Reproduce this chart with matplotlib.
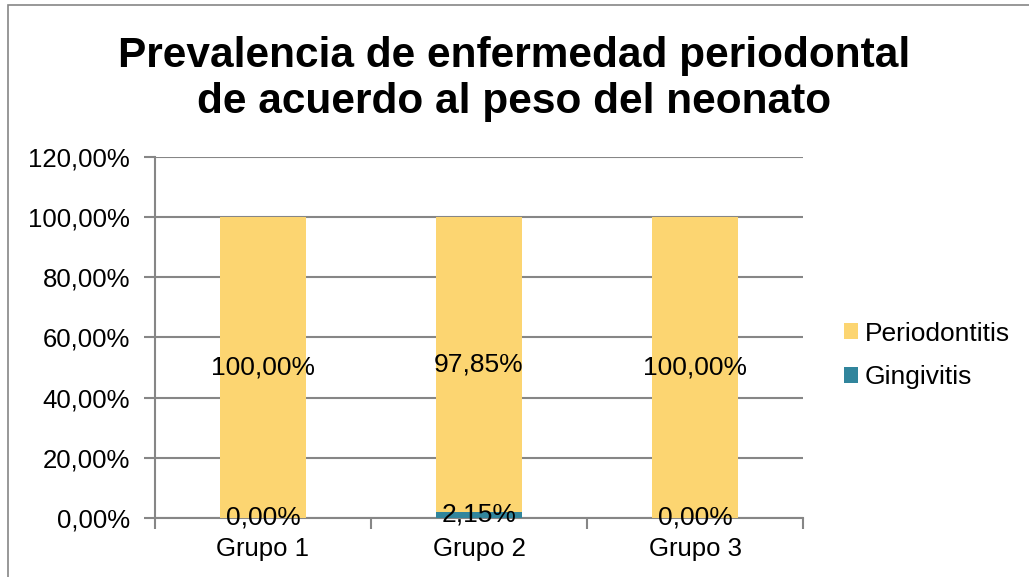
import matplotlib.pyplot as plt
from matplotlib.patches import Rectangle
from matplotlib.ticker import FuncFormatter

# values (%)
GRUPOS = ['Grupo 1', 'Grupo 2', 'Grupo 3']
GINGIVITIS = [0.0, 2.15, 0.0]
PERIODONTITIS = [100.0, 97.85, 100.0]
Y_TICKS = [0, 20, 40, 60, 80, 100, 120]

YELLOW = '#FCD571'
TEAL = '#31859C'
GRAY = '#868686'

plt.rcParams['font.family'] = ['Liberation Sans', 'DejaVu Sans']

fig = plt.figure(figsize=(10.29, 5.77), dpi=100)
ax = fig.add_axes([0.1506, 0.1023, 0.6298, 0.6256])

# outer chart frame (cut off at right/bottom like the original)
fig.patches.append(Rectangle((8 / 1029, -0.2), 1.5, 0.2 + (1 - 5 / 577),
                             transform=fig.transFigure, fill=False,
                             edgecolor=GRAY, linewidth=1.2))

x = range(len(GRUPOS))
b1 = ax.bar(x, GINGIVITIS, width=0.4, color=TEAL, label='Gingivitis', zorder=3)
b2 = ax.bar(x, PERIODONTITIS, width=0.4, bottom=GINGIVITIS, color=YELLOW,
            label='Periodontitis', zorder=3)

fmt = lambda v: f'{v:.2f}'.replace('.', ',') + '%'
ax.bar_label(b1, labels=[fmt(v) for v in GINGIVITIS], label_type='center',
             fontsize=19, zorder=4)
ax.bar_label(b2, labels=[fmt(v) for v in PERIODONTITIS], label_type='center',
             fontsize=19, zorder=4)

ax.set_xlim(-0.5, 2.5)
ax.set_ylim(0, 120)
ax.set_yticks(Y_TICKS)
ax.yaxis.set_major_formatter(FuncFormatter(lambda v, p: fmt(v)))
ax.set_xticks(list(x))
ax.set_xticklabels(GRUPOS)
ax.set_xticks([-0.5, 0.5, 1.5, 2.5], minor=True)
ax.tick_params(axis='x', which='major', length=0, labelsize=18.5, pad=14)
ax.tick_params(axis='x', which='minor', length=8, color=GRAY, width=1.5)
ax.tick_params(axis='y', length=8, color=GRAY, width=1.5, labelsize=18.5, pad=10)

ax.grid(axis='y', color=GRAY, linewidth=1.5, zorder=0)
for s in ['top', 'right']:
    ax.spines[s].set_visible(False)
for s in ['left', 'bottom']:
    ax.spines[s].set_color(GRAY)
    ax.spines[s].set_linewidth(1.5)

handles, labels = ax.get_legend_handles_labels()
fig.legend(handles[::-1], labels[::-1], loc='center left',
           bbox_to_anchor=(0.797, 0.384), frameon=False, fontsize=19,
           handlelength=0.55, handleheight=0.55, handletextpad=0.25,
           labelspacing=0.75)

fig.text(0.5, 0.863, 'Prevalencia de enfermedad periodontal\nde acuerdo al peso del neonato',
         ha='center', va='center', fontsize=30.5, fontweight='bold', linespacing=1.2)

fig.savefig('out.png', dpi=100)
